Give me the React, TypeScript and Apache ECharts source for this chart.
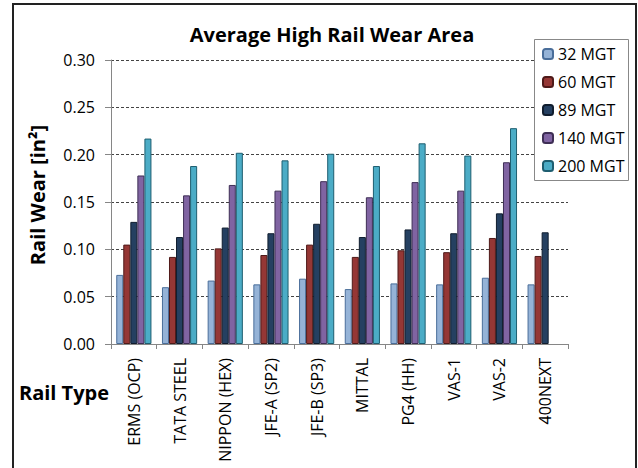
import React, { useEffect, useRef } from "react";
import * as echarts from "echarts";

const categories = [
  "ERMS (OCP)",
  "TATA STEEL",
  "NIPPON (HEX)",
  "JFE-A (SP2)",
  "JFE-B (SP3)",
  "MITTAL",
  "PG4 (HH)",
  "VAS-1",
  "VAS-2",
  "400NEXT",
];

const seriesNames = ["32 MGT", "60 MGT", "89 MGT", "140 MGT", "200 MGT"];

const mgt32 = [0.073, 0.06, 0.067, 0.063, 0.069, 0.058, 0.064, 0.063, 0.07, 0.063];
const mgt60 = [0.105, 0.092, 0.101, 0.094, 0.105, 0.092, 0.099, 0.097, 0.112, 0.093];
const mgt89 = [0.129, 0.113, 0.123, 0.117, 0.127, 0.113, 0.121, 0.117, 0.138, 0.118];
const mgt140 = [0.178, 0.157, 0.168, 0.162, 0.172, 0.155, 0.171, 0.162, 0.192, null];
const mgt200 = [0.217, 0.188, 0.202, 0.194, 0.201, 0.188, 0.212, 0.199, 0.228, null];

const yTicks = ["0.00", "0.05", "0.10", "0.15", "0.20", "0.25", "0.30"];

const fills = ["#95B3D7", "#953735", "#254061", "#8064A2", "#4BACC6"];
const borders = ["#4A6E9A", "#4F1A19", "#101D2E", "#3E2E55", "#1E5E70"];

const FONT = "'Open Sans', sans-serif";

export default function App() {
  const ref = useRef<HTMLDivElement>(null);

  useEffect(() => {
    if (!ref.current) return;
    const chart = echarts.init(ref.current, null, { renderer: "svg" });
    const values = [mgt32, mgt60, mgt89, mgt140, mgt200];
    chart.setOption({
      animation: false,
      backgroundColor: "#ffffff",
      title: {
        text: "Average High Rail Wear Area",
        left: 327,
        top: 19,
        textAlign: "center",
        textStyle: { fontFamily: FONT, fontSize: 20, fontWeight: "bold", color: "#000" },
      },
      legend: {
        orient: "vertical",
        left: 534,
        top: 39,
        z: 10,
        padding: [7, 0, 0, 8],
        itemGap: 12,
        itemWidth: 10,
        itemHeight: 10,
        borderWidth: 0,
        textStyle: { fontFamily: FONT, fontSize: 16, color: "#000", lineHeight: 16 },
        data: seriesNames,
      },
      grid: { left: 111, top: 60, right: 70, bottom: 124, containLabel: false },
      xAxis: {
        type: "category",
        data: categories,
        axisLine: { lineStyle: { color: "#868686" } },
        axisTick: { show: true, length: 5, lineStyle: { color: "#868686" } },
        axisLabel: {
          rotate: 90,
          interval: 0,
          margin: 14,
          fontFamily: FONT,
          fontSize: 16,
          color: "#000",
        },
      },
      yAxis: {
        type: "value",
        min: 0,
        max: 0.3,
        interval: 0.05,
        axisLine: { show: true, lineStyle: { color: "#868686" } },
        axisTick: { show: true, length: 6, lineStyle: { color: "#868686" } },
        axisLabel: {
          margin: 16,
          fontFamily: FONT,
          fontSize: 16,
          color: "#000",
          formatter: (v: number) => yTicks[Math.round(v / 0.05)] ?? v.toFixed(2),
        },
        splitLine: { lineStyle: { color: "#444444", type: [3, 2], width: 1 } },
      },
      series: seriesNames.map((name, i) => ({
        name,
        type: "bar",
        data: values[i],
        barGap: "0%",
        barCategoryGap: "23%",
        itemStyle: { color: fills[i], borderColor: borders[i], borderWidth: 1 },
      })),
      graphic: [
        {
          type: "rect",
          z: 1,
          shape: { x: 13, y: 4, width: 623, height: 500 },
          style: { fill: "none", stroke: "#222", lineWidth: 2 },
          silent: true,
        },
        {
          type: "rect",
          z: 5,
          shape: { x: 534.5, y: 39.5, width: 94, height: 141 },
          style: { fill: "#ffffff", stroke: "#888888", lineWidth: 1 },
          silent: true,
        },
        {
          type: "text",
          x: 37,
          y: 195,
          rotation: Math.PI / 2,
          style: {
            text: "Rail Wear [in²]",
            fontFamily: FONT,
            fontSize: 20,
            fontWeight: "bold",
            fill: "#000",
            align: "center",
            verticalAlign: "middle",
          },
        },
        {
          type: "text",
          x: 64,
          y: 392,
          style: {
            text: "Rail Type",
            fontFamily: FONT,
            fontSize: 20,
            fontWeight: "bold",
            fill: "#000",
            align: "center",
            verticalAlign: "middle",
          },
        },
      ],
    });
    return () => chart.dispose();
  }, []);

  return (
    <div
      ref={ref}
      style={{ position: "fixed", left: 0, top: 0, width: 638, height: 468 }}
    />
  );
}
